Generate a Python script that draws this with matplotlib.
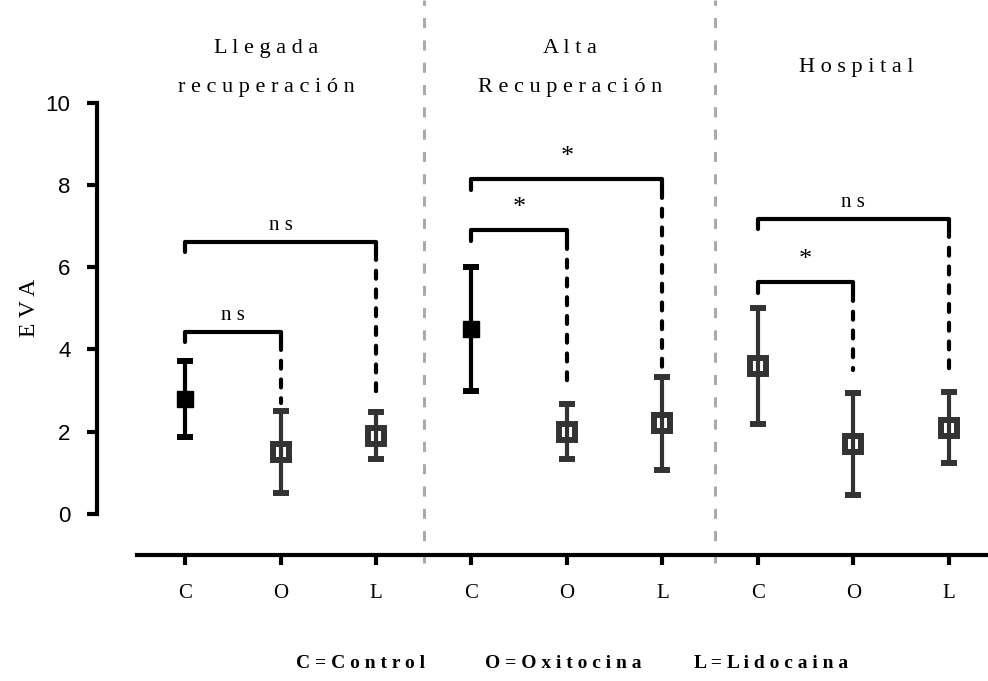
import matplotlib.pyplot as plt

# groups (panels) and treatments
groups = ['Llegada\nrecuperación', 'Alta\nRecuperación', 'Hospital']
treatments = ['C', 'O', 'L']
legend_items = ['C=Control', 'O=Oxitocina', 'L=Lidocaina']

# EVA mean and error
means = [[2.8, 1.5, 1.9],
         [4.5, 2.0, 2.2],
         [3.6, 1.7, 2.1]]
errors = [[0.92, 1.0, 0.57],
          [1.5, 0.67, 1.14],
          [1.42, 1.25, 0.87]]
filled = [[True, False, False],
          [True, False, False],
          [False, False, False]]

# significance brackets: C vs O, C vs L
bracket_pairs = [(0, 1), (0, 2)]
bracket_top = [[4.43, 6.62], [6.9, 8.14], [5.63, 7.18]]
bracket_end = [[2.7, 2.97], [3.1, 3.55], [3.5, 3.3]]
bracket_text = [['ns', 'ns'], ['*', '*'], ['*', 'ns']]


def spaced(s):
    # letter-spaced text like the original figure
    return '\n'.join(' '.join(line) for line in s.split('\n'))


serif = 'Liberation Serif'
sans = 'Liberation Sans'
dark = '#333333'

fig = plt.figure(figsize=(9.88, 6.81), dpi=100)
ax = fig.add_axes([137 / 988, 1 - 555 / 681, 851 / 988, 555 / 681])

# spines first (set_position resets the ticks)
ax.spines['top'].set_visible(False)
ax.spines['right'].set_visible(False)
ax.spines['left'].set_position(('outward', 28.8))
ax.spines['left'].set_bounds(0, 10)
ax.spines['left'].set_linewidth(3)
ax.spines['bottom'].set_linewidth(3)

for g in range(len(groups)):
    for i in range(len(treatments)):
        x = g * 3 + i
        col = 'black' if filled[g][i] else dark
        ax.errorbar(x, means[g][i], yerr=errors[g][i], fmt='none', ecolor=col,
                    elinewidth=3, capsize=6, capthick=4.3, zorder=3)
        if filled[g][i]:
            ax.plot(x, means[g][i], 's', ms=12, mfc='black', mec='black',
                    mew=1, zorder=4)
        else:
            ax.plot(x, means[g][i], 's', ms=11.5, mfc='none', mec=dark,
                    mew=4.3, zorder=4)

    # brackets
    for k, (a, b) in enumerate(bracket_pairs):
        x1, x2 = g * 3 + a, g * 3 + b
        top = bracket_top[g][k]
        leg = 0.25
        ax.plot([x1, x1, x2, x2], [top - leg, top, top, top - leg], color='black',
                lw=3, solid_joinstyle='round', solid_capstyle='round', zorder=4)
        ax.plot([x2, x2], [top - leg, bracket_end[g][k]], color='black', lw=3,
                linestyle=(0, (1.9, 2.6)), dash_capstyle='round', zorder=4)
        txt = bracket_text[g][k]
        star = txt == '*'
        ax.annotate(spaced(txt), xy=((x1 + x2) / 2, top),
                    xytext=(0, 8 if star else 5), textcoords='offset points',
                    ha='center', va='bottom', fontsize=19 if star else 15,
                    family=serif)

# panel titles
title_x = [0.85, 4.03, 7.03]
for g, name in enumerate(groups):
    ax.text(title_x[g], 10.85, spaced(name), ha='center', va='center',
            fontsize=16, family=serif, linespacing=2.4)

# dividers
for xd in [2.5, 5.55]:
    ax.axvline(xd, ymin=-0.015, ymax=1, color='#aaaaaa', lw=2.2,
               linestyle=(0, (3.3, 4)), clip_on=False, zorder=1)

ax.set_xlim(-0.503, 8.41)
ax.set_ylim(-1, 12.5)

ax.set_xticks(range(9))
ax.set_xticklabels(treatments * 3, family=serif, fontsize=15)
ax.set_yticks(range(0, 11, 2))
ax.set_yticklabels([str(v) for v in range(0, 11, 2)], family=sans, fontsize=16)
ax.tick_params(axis='y', length=7, width=3, pad=12)
ax.tick_params(axis='x', length=7, width=3, pad=14)

ax.set_ylabel(spaced('EVA'), family=serif, fontsize=17)
ax.yaxis.set_label_coords(-0.114, 0.445)

legend_x = [361, 563, 771]
for lx, item in zip(legend_x, legend_items):
    fig.text(lx / 988, 1 - 664 / 681, spaced(item), ha='center', va='center',
             fontsize=14, family=serif, fontweight='bold')

plt.savefig('out.png', dpi=100)
